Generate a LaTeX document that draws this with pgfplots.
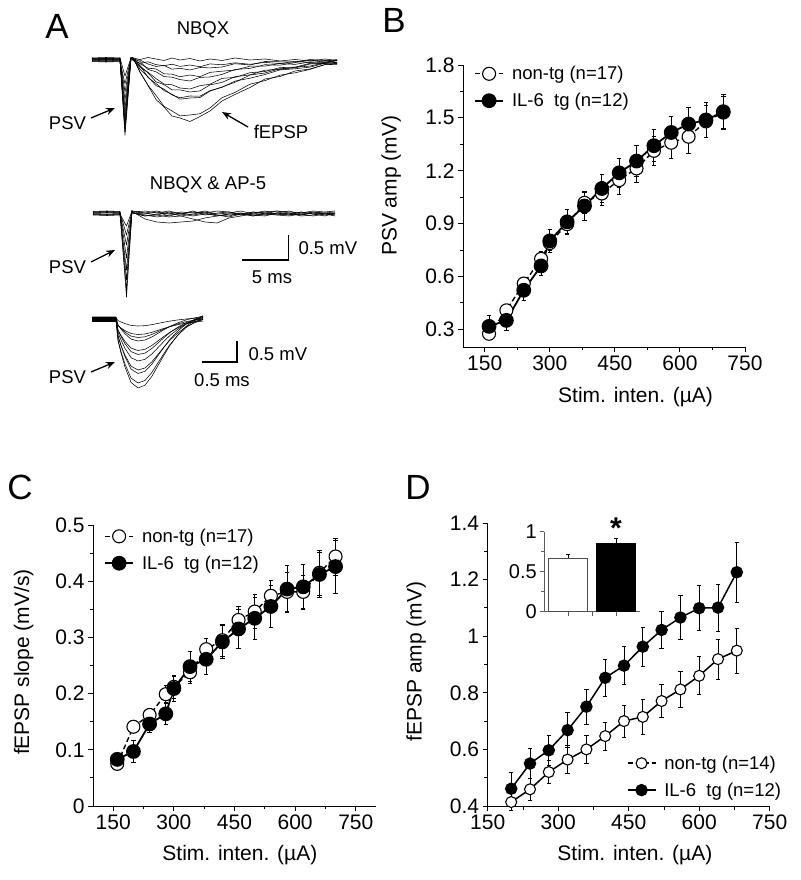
\documentclass[border=0pt]{standalone}
\usepackage{fontspec}
\setmainfont{Liberation Sans}
\usepackage{pgfplots}
\pgfplotsset{compat=1.18}
\usetikzlibrary{arrows.meta}
\newcommand{\fs}[1]{\fontsize{#1}{#1}\selectfont}
\pgfplotsset{
  panel/.style={scale only axis, clip=false,
    axis lines*=left, axis line style={-, line width=0.9pt},
    tick align=outside, minor tick num=1,
    major tick length=5pt, minor tick length=3.5pt,
    tick style={black, line width=0.9pt},
    tick label style={font=\fs{21}},
    label style={font=\fs{21}},
    /pgf/number format/assume math mode=true,
    xtick={150,300,...,750},
    xlabel={Stim. inten. (µA)},
    legend cell align=left,
    legend image code/.code={\draw[mark repeat=2,mark phase=2,##1] plot coordinates {(0pt,0pt) (14pt,0pt) (28pt,0pt)};},
  },
  errs/.style={/pgfplots/error bars/y dir=both, /pgfplots/error bars/y explicit, /pgfplots/error bars/error bar style={solid, line width=0.8pt}, /pgfplots/error bars/error mark options={rotate=90, mark size=2.2pt, line width=0.8pt, solid}},
  openS/.style={black, line width=1.4pt, dash pattern=on 5pt off 3pt, mark=*, mark size=#1, mark options={solid, fill=white, line width=1.1pt}, errs},
  fillS/.style={black, line width=1.8pt, solid, mark=*, mark size=#1, mark options={solid, fill=black}, errs},
  trace/.style={black, line width=0.55pt, no marks, line join=round},
  leg/.style={legend style={draw=none, fill=none, font=\fs{18.5}, row sep=8pt, column sep=6pt, inner sep=0pt}},
}
\begin{document}
\begin{tikzpicture}[x=1pt,y=1pt]
\path[use as bounding box] (0,0) rectangle (800,880);
% ---------------- Panel A ----------------
\begin{axis}[at={(0pt,460pt)}, anchor=south west, scale only axis, width=380pt, height=420pt,
  xmin=0, xmax=380, ymin=0, ymax=420, y dir=reverse, hide axis, clip=false]
% NBQX traces
\addplot[trace] coordinates {(92,59)(106,59.5)(120,59)(125,135)(131,58)(133,57.8)(140,72)(148,85.5)(156,99.5)(164,107)(172,116)(180,118)(190,121.5)(200,116.5)(210,111)(222,101)(235,94.5)(250,87.5)(265,79)(280,76.5)(295,71)(310,69)(325,64.5)(337,63.5)};
\addplot[trace] coordinates {(92,60)(106,60.5)(120,60)(125,132)(131,58)(133,57.4)(140,72.2)(148,85.2)(156,95.4)(164,106.3)(172,111)(180,115.9)(190,115)(200,113.7)(210,108)(222,97.7)(235,92.4)(250,84.2)(265,80.6)(280,75.2)(295,72.8)(310,69.4)(325,64.6)(337,64.4)};
\addplot[trace] coordinates {(92,58.5)(106,58)(120,58.5)(125,128)(131,58)(133,58.2)(140,65.5)(148,77.5)(156,83.5)(164,90.5)(172,94.3)(180,99.2)(190,98)(200,97.5)(210,91.1)(222,87)(235,82.3)(250,75)(265,73)(280,68.7)(295,67.9)(310,64)(325,63.5)(337,62.3)};
\addplot[trace] coordinates {(92,60.5)(106,61)(120,60.5)(125,124)(131,58)(133,58.8)(140,69.4)(148,76.7)(156,85.6)(164,89.1)(172,95)(180,97.8)(190,96)(200,96.2)(210,90.6)(222,87.4)(235,81.1)(250,78.2)(265,74.5)(280,69.9)(295,68.8)(310,67.1)(325,63.2)(337,63.1)};
\addplot[trace] coordinates {(92,59.5)(106,59)(120,59.5)(125,120)(131,58)(133,59.9)(140,65.9)(148,72.9)(156,81.8)(164,84.6)(172,89.9)(180,89.9)(190,92)(200,90.9)(210,84.9)(222,82.4)(235,76.7)(250,74.9)(265,70.2)(280,69.5)(295,67.2)(310,63.3)(325,63.2)(337,60.7)};
\addplot[trace] coordinates {(92,61)(106,61.5)(120,61)(125,114)(131,58)(133,60)(140,67.4)(148,72.2)(156,78.6)(164,84.1)(172,84.8)(180,88)(190,89)(200,85.7)(210,84.2)(222,78.4)(235,77.4)(250,72.7)(265,71.5)(280,67.6)(295,67.2)(310,66.1)(325,62.7)(337,63.4)};
\addplot[trace] coordinates {(92,58)(106,57.5)(120,58)(125,108)(131,58)(133,58.6)(140,61.4)(148,69.4)(156,71.8)(164,76.6)(172,77.2)(180,79.6)(190,81)(200,77.4)(210,77)(222,74.4)(235,69.5)(250,68.4)(265,64.7)(280,65.2)(295,62.6)(310,60.3)(325,61.2)(337,59.5)};
\addplot[trace] coordinates {(92,60)(106,59.5)(120,60)(125,100)(131,58)(133,58.7)(140,63.7)(148,68.2)(156,68.9)(164,73.8)(172,74.2)(180,76.7)(190,75)(200,76.7)(210,72.4)(222,71.2)(235,70.1)(250,66.2)(265,66.1)(280,63.5)(295,64.4)(310,61.9)(325,62.6)(337,60.1)};
\addplot[trace] coordinates {(92,59)(106,58.5)(120,59)(125,92)(131,58)(133,59.8)(140,60)(148,64)(156,66.5)(164,65.5)(172,69.2)(180,68.3)(190,70)(200,67.5)(210,67.9)(222,67)(235,63.7)(250,65)(265,61.5)(280,61.8)(295,62.1)(310,59.5)(325,60.5)(337,60.7)};
\addplot[trace] coordinates {(92,61.5)(106,62)(120,61.5)(125,84)(131,58)(133,60.4)(140,63.3)(148,61.8)(156,64.6)(164,65.7)(172,64.2)(180,66.4)(190,65)(200,66.8)(210,63.9)(222,64.8)(235,62.8)(250,64.3)(265,62.4)(280,63.6)(295,61.3)(310,62.6)(325,60.9)(337,62.8)};
\addplot[trace] coordinates {(92,58)(106,58.5)(120,58)(125,76)(131,58)(133,58)(140,59.5)(148,57.5)(156,59)(164,60.5)(172,58)(180,60)(190,58.5)(200,61)(210,59)(222,60.5)(235,58)(250,60)(265,59)(280,61)(295,59.5)(310,61)(325,59)(337,60.5)};
% NBQX & AP-5 traces
\addplot[trace] coordinates {(93,213)(107,212.5)(120,213)(126.5,297)(132,211)(133,212)(145,219)(157,222)(169,223)(181,222)(193,221)(205,218)(217,216)(229,214)(241,215)(253,212)(265,214)(277,213)(289,211)(301,214)(313,212)(325,213)(335,212)};
\addplot[trace] coordinates {(93,214)(107,214.5)(120,214)(126.5,290)(132,211)(133,213)(145,216)(157,215)(169,217)(181,216)(193,219)(205,222)(217,223)(229,218)(241,216)(253,214)(265,215)(277,213)(289,215)(301,212)(313,214)(325,213)(335,215)};
\addplot[trace] coordinates {(93,212)(107,211.5)(120,212)(126.5,280)(132,211)(133,211)(145,213)(157,211)(169,214)(181,212)(193,213)(205,211)(217,214)(229,213)(241,211)(253,214)(265,212)(277,211)(289,213)(301,215)(313,212)(325,214)(335,213)};
\addplot[trace] coordinates {(93,215)(107,215.5)(120,215)(126.5,270)(132,211)(133,213)(145,215)(157,217)(169,215)(181,214)(193,216)(205,214)(217,215)(229,217)(241,214)(253,216)(265,213)(277,215)(289,216)(301,214)(313,216)(325,214)(335,216)};
\addplot[trace] coordinates {(93,211.5)(107,211)(120,211.5)(126.5,258)(132,211)(133,212)(145,211)(157,213)(169,211)(181,214)(193,212)(205,213)(217,211)(229,212)(241,214)(253,212)(265,213)(277,211)(289,212)(301,213)(313,211)(325,212)(335,211)};
\addplot[trace] coordinates {(93,213.5)(107,214)(120,213.5)(126.5,245)(132,211)(133,213)(145,214)(157,212)(169,216)(181,213)(193,215)(205,213)(217,216)(229,214)(241,213)(253,216)(265,214)(277,215)(289,213)(301,216)(313,215)(325,213)(335,214)};
\addplot[trace] coordinates {(93,212.5)(107,212)(120,212.5)(126.5,235)(132,211)(133,212)(145,213)(157,215)(169,212)(181,214)(193,211)(205,215)(217,213)(229,212)(241,215)(253,213)(265,211)(277,214)(289,215)(301,212)(313,214)(325,216)(335,213)};
\addplot[trace] coordinates {(93,214.5)(107,215)(120,214.5)(126.5,226)(132,211)(133,213)(145,216)(157,214)(169,213)(181,216)(193,214)(205,212)(217,215)(229,216)(241,213)(253,215)(265,216)(277,213)(289,214)(301,215)(313,213)(325,215)(335,214)};
% PSV expanded traces
\addplot[trace] coordinates {(92,318)(116,318)(118,340.4)(121,353)(125,367)(131,382.4)(138,388)(145,385.2)(152,376.1)(158,365.6)(164,355.1)(170,345.3)(178,334.8)(186,326.4)(194,320.8)(203,315.9)};
\addplot[trace] coordinates {(92,320)(116,320)(118,340.2)(121,351.5)(125,364.1)(131,378)(138,383)(145,380.5)(152,372.3)(158,362.8)(164,353.4)(170,344.6)(178,335.1)(186,327.6)(194,322.5)(203,318.1)};
\addplot[trace] coordinates {(92,317.5)(116,317.5)(118,335.4)(121,345.5)(125,356.7)(131,369)(138,373.5)(145,371.3)(152,364)(158,355.6)(164,347.2)(170,339.3)(178,330.9)(186,324.2)(194,319.7)(203,315.8)};
\addplot[trace] coordinates {(92,321)(116,321)(118,336.7)(121,345.5)(125,355.3)(131,366.1)(138,370)(145,368)(152,361.7)(158,354.3)(164,347)(170,340.1)(178,332.8)(186,326.9)(194,323)(203,319.5)};
\addplot[trace] coordinates {(92,319)(116,319)(118,332.4)(121,340)(125,348.4)(131,357.6)(138,361)(145,359.3)(152,353.9)(158,347.6)(164,341.3)(170,335.4)(178,329.1)(186,324)(194,320.7)(203,317.7)};
\addplot[trace] coordinates {(92,318.5)(116,318.5)(118,330)(121,336.5)(125,343.7)(131,351.6)(138,354.5)(145,353.1)(152,348.4)(158,343)(164,337.6)(170,332.5)(178,327.1)(186,322.8)(194,319.9)(203,317.4)};
\addplot[trace] coordinates {(92,320.5)(116,320.5)(118,330.1)(121,335.5)(125,341.5)(131,348.1)(138,350.5)(145,349.3)(152,345.4)(158,340.9)(164,336.4)(170,332.2)(178,327.7)(186,324.1)(194,321.7)(203,319.6)};
\addplot[trace] coordinates {(92,317)(116,317)(118,324.7)(121,329)(125,333.8)(131,339.1)(138,341)(145,340)(152,336.9)(158,333.3)(164,329.7)(170,326.4)(178,322.8)(186,319.9)(194,318)(203,316.3)};
\addplot[trace] coordinates {(92,319.5)(116,319.5)(118,325.3)(121,328.5)(125,332.1)(131,336.1)(138,337.5)(145,336.8)(152,334.4)(158,331.7)(164,329)(170,326.5)(178,323.8)(186,321.7)(194,320.2)(203,319)};
\addplot[trace] coordinates {(92,321.5)(116,321.5)(118,325.7)(121,328)(125,330.6)(131,333.5)(138,334.5)(145,334)(152,332.3)(158,330.3)(164,328.4)(170,326.6)(178,324.6)(186,323.1)(194,322)(203,321.1)};
\addplot[trace] coordinates {(92,318)(116,318)(118,320.6)(121,322)(125,323.6)(131,325.4)(138,326)(145,325.7)(152,324.6)(158,323.4)(164,322.2)(170,321.1)(178,319.9)(186,319)(194,318.3)(203,317.8)};
% scale bars
\addplot[black, line width=1.6pt, no marks] coordinates {(241.7,260)(288.3,260)(288.3,235)};
\addplot[black, line width=1.6pt, no marks] coordinates {(202,362)(237,362)(237,341)};
% labels
\begin{scope}[font=\fs{18.5}]
\node at (axis cs:203,30) {NBQX};
\node at (axis cs:208,185) {NBQX \& AP-5};
\node at (axis cs:67.5,123) {PSV};
\node at (axis cs:67.5,267) {PSV};
\node at (axis cs:67.5,377) {PSV};
\node at (axis cs:281,132) {fEPSP};
\node[anchor=west] at (axis cs:295,248) {0.5 mV};
\node at (axis cs:272,277) {5 ms};
\node[anchor=west] at (axis cs:245,354) {0.5 mV};
\node at (axis cs:222,380) {0.5 ms};
\end{scope}
\begin{scope}[line width=1.3pt, -{Stealth[length=9pt,width=7pt]}]
\draw (axis cs:91,118) -- (axis cs:115,108);
\draw (axis cs:91,262) -- (axis cs:115,250);
\draw (axis cs:91,372) -- (axis cs:115,362);
\draw (axis cs:248,127) -- (axis cs:222,112);
\end{scope}
\end{axis}
% ---------------- Panel B ----------------
\begin{axis}[panel, leg, at={(463pt,533pt)}, anchor=south west, width=282pt, height=282pt,
  xmin=100, xmax=750, ymin=0.2, ymax=1.8, ytick={0.3,0.6,...,1.8},
  ylabel={PSV amp (mV)},
  xlabel style={at={(axis description cs:0.612,-0.177)}, anchor=center},
  ylabel style={at={(axis description cs:-0.255,0.571)}, anchor=center},
  legend style={at={(axis description cs:0.039,1.003)}, anchor=north west}]
\addplot+[openS=6.5pt] coordinates {
(160,0.275) +- (0,0.03) (200,0.408) +- (0,0.03) (240,0.56) +- (0,0.03) (280,0.70) +- (0,0.04) (300,0.79) +- (0,0.04) (340,0.897) +- (0,0.05) (380,1.018) +- (0,0.06) (420,1.071) +- (0,0.07) (460,1.147) +- (0,0.08) (500,1.213) +- (0,0.08) (540,1.313) +- (0,0.08) (580,1.359) +- (0,0.09) (620,1.393) +- (0,0.095) (660,1.48) +- (0,0.09) (700,1.53) +- (0,0.09)};
\addlegendentry{non-tg (n=17)}
\addplot+[fillS=6.5pt] coordinates {
(160,0.317) +- (0,0.065) (200,0.351) +- (0,0.057) (240,0.522) +- (0,0.055) (280,0.66) +- (0,0.053) (300,0.802) +- (0,0.064) (340,0.91) +- (0,0.07) (380,1.0) +- (0,0.08) (420,1.099) +- (0,0.08) (460,1.188) +- (0,0.08) (500,1.255) +- (0,0.087) (540,1.342) +- (0,0.09) (580,1.417) +- (0,0.09) (620,1.465) +- (0,0.095) (660,1.488) +- (0,0.1) (700,1.535) +- (0,0.1)};
\addlegendentry{IL-6\ \ tg (n=12)}
\end{axis}
% ---------------- Panel C ----------------
\begin{axis}[panel, leg, at={(93pt,74pt)}, anchor=south west, width=283pt, height=281pt,
  xmin=100, xmax=800, ymin=0, ymax=0.5, ytick={0,0.1,...,0.5},
  ylabel={fEPSP slope (mV/s)},
  xlabel style={at={(axis description cs:0.519,-0.174)}, anchor=center},
  ylabel style={at={(axis description cs:-0.245,0.512)}, anchor=center},
  legend style={at={(axis description cs:0.039,0.994)}, anchor=north west}]
\addplot+[openS=6.5pt] coordinates {
(160,0.075) +- (0,0.01) (200,0.141) +- (0,0.01) (240,0.162) +- (0,0.012) (280,0.199) +- (0,0.015) (300,0.212) +- (0,0.02) (340,0.238) +- (0,0.02) (380,0.279) +- (0,0.02) (420,0.295) +- (0,0.028) (460,0.331) +- (0,0.025) (500,0.346) +- (0,0.03) (540,0.374) +- (0,0.028) (580,0.381) +- (0,0.035) (620,0.381) +- (0,0.03) (660,0.415) +- (0,0.04) (700,0.444) +- (0,0.033)};
\addlegendentry{non-tg (n=17)}
\addplot+[fillS=6.5pt] coordinates {
(160,0.083) +- (0,0.01) (200,0.097) +- (0,0.02) (240,0.146) +- (0,0.015) (280,0.164) +- (0,0.018) (300,0.209) +- (0,0.022) (340,0.248) +- (0,0.027) (380,0.261) +- (0,0.027) (420,0.292) +- (0,0.03) (460,0.315) +- (0,0.035) (500,0.334) +- (0,0.038) (540,0.355) +- (0,0.037) (580,0.386) +- (0,0.042) (620,0.39) +- (0,0.04) (660,0.412) +- (0,0.04) (700,0.426) +- (0,0.047)};
\addlegendentry{IL-6\ \ tg (n=12)}
\end{axis}
% ---------------- Panel D ----------------
\begin{axis}[panel, leg, at={(487.7pt,74pt)}, anchor=south west, width=282pt, height=283pt,
  xmin=150, xmax=750, ymin=0.4, ymax=1.4, ytick={0.4,0.6,...,1.4},
  ylabel={fEPSP amp (mV)},
  xlabel style={at={(axis description cs:0.522,-0.173)}, anchor=center},
  ylabel style={at={(axis description cs:-0.254,0.51)}, anchor=center},
  legend style={at={(axis description cs:1.048,0.022)}, anchor=south east}]
\addplot+[openS=5.5pt, solid, line width=1.5pt, legend image post style={dash pattern=on 5pt off 3pt}] coordinates {
(200,0.414) +- (0,0.03) (240,0.459) +- (0,0.04) (280,0.52) +- (0,0.04) (320,0.564) +- (0,0.05) (360,0.6) +- (0,0.05) (400,0.647) +- (0,0.05) (440,0.7) +- (0,0.057) (480,0.715) +- (0,0.061) (520,0.771) +- (0,0.057) (560,0.812) +- (0,0.063) (600,0.86) +- (0,0.067) (640,0.919) +- (0,0.071) (680,0.949) +- (0,0.079)};
\addlegendentry{non-tg (n=14)}
\addplot+[fillS=5.5pt, line width=1.5pt] coordinates {
(200,0.461) +- (0,0.057) (240,0.55) +- (0,0.053) (280,0.597) +- (0,0.053) (320,0.668) +- (0,0.061) (360,0.751) +- (0,0.061) (400,0.853) +- (0,0.065) (440,0.896) +- (0,0.067) (480,0.963) +- (0,0.068) (520,1.022) +- (0,0.065) (560,1.066) +- (0,0.078) (600,1.099) +- (0,0.079) (640,1.101) +- (0,0.083) (680,1.226) +- (0,0.106)};
\addlegendentry{IL-6\ \ tg (n=12)}
\end{axis}
% inset
\begin{axis}[at={(544.3pt,268.3pt)}, anchor=south west, scale only axis, width=95.7pt, height=80pt,
  clip=false, xmin=0, xmax=2, ymin=0, ymax=1,
  axis lines*=left, axis line style={-, line width=0.9pt, black!65},
  tick align=outside, tick style={black!65, line width=0.8pt},
  major tick length=4pt, minor tick length=3pt,
  ytick={0,0.5,1}, minor ytick={0.25,0.75}, xtick={0.5,1,1.5}, xticklabels={},
  yticklabel style={font=\fs{20}}, /pgf/number format/assume math mode=true]
\addplot[ybar, bar width=0.81, bar shift=0pt, fill=white, draw=black!70, line width=1pt,
  error bars/.cd, y dir=plus, y explicit, error bar style={line width=0.8pt, black}, error mark options={rotate=90, mark size=2.2pt, line width=0.8pt, black}]
  coordinates {(0.5,0.67) +- (0,0.05)};
\addplot[ybar, bar width=0.81, bar shift=0pt, fill=black, draw=black, line width=1pt,
  error bars/.cd, y dir=plus, y explicit, error bar style={line width=0.8pt, black}, error mark options={rotate=90, mark size=2.2pt, line width=0.8pt, black}]
  coordinates {(1.5,0.855) +- (0,0.06)};
\node[font=\bfseries\fs{30}] at (axis cs:1.5,1.05) {*};
\end{axis}
% panel letters
\node[font=\fs{35}] at (57,854) {A};
\node[font=\fs{35}] at (394,860) {B};
\node[font=\fs{35}] at (20,393) {C};
\node[font=\fs{35}] at (418,393) {D};
\end{tikzpicture}
\end{document}
